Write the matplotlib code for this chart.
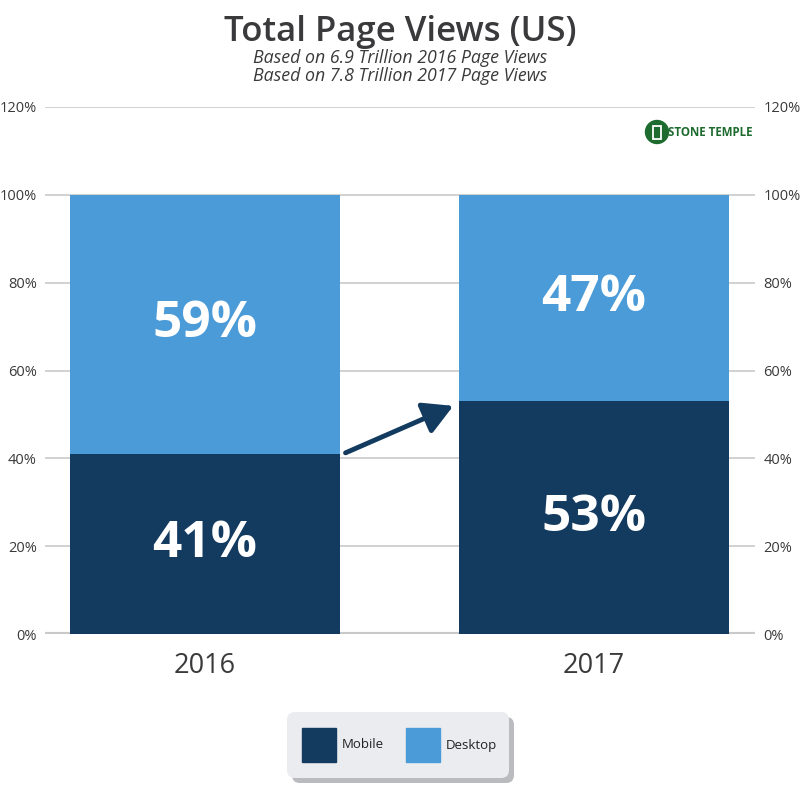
import matplotlib
matplotlib.use("Agg")
import matplotlib.pyplot as plt
from matplotlib.patches import FancyBboxPatch, Rectangle, Circle, FancyArrowPatch

years = ["2016", "2017"]
mobile = [41, 53]
desktop = [59, 47]
yticks = [0, 20, 40, 60, 80, 100, 120]
title = "Total Page Views (US)"
subtitles = ["Based on 6.9 Trillion 2016 Page Views", "Based on 7.8 Trillion 2017 Page Views"]
series_names = ["Mobile", "Desktop"]

DARK = "#133a5f"
LIGHT = "#4a9bd7"
TXT = "#3a3a3c"
FONT = ["Open Sans", "DejaVu Sans"]
plt.rcParams["font.family"] = FONT

W = H = 801
fig = plt.figure(figsize=(8.01, 8.01), dpi=100)
fig.patch.set_facecolor("white")

def fx(px):
    return px / W

def fy(py):
    return 1 - py / H

ax = fig.add_axes([fx(45), fy(634), fx(755) - fx(45), fy(107) - fy(634)])
ax.set_xlim(-0.411, 1.414)
ax.set_ylim(0, 120)
x = list(range(len(years)))
width = 0.694
ax.bar(x, mobile, width=width, color=DARK, zorder=3)
ax.bar(x, desktop, width=width, bottom=mobile, color=LIGHT, zorder=3)

for yt in yticks:
    ax.axhline(yt, color="#c9c9c9", lw=1.2 if yt else 3, zorder=1)
for s in ax.spines.values():
    s.set_visible(False)
ax.set_xticks([])
ax.set_yticks(yticks)
ax.set_yticklabels([f"{v}%" for v in yticks])
ax.tick_params(axis="y", length=0, pad=6, labelsize=10.5, labelcolor=TXT,
               labelright=True, right=False)
ax.set_facecolor("none")

for i in x:
    ax.text(i, mobile[i] / 2, f"{mobile[i]}%", color="white", fontsize=37,
            fontweight="bold", ha="center", va="center", zorder=4)
    ax.text(i, mobile[i] + desktop[i] / 2, f"{desktop[i]}%", color="white", fontsize=37,
            fontweight="bold", ha="center", va="center", zorder=4)
    ax.text(i, -7.2, years[i], color=TXT, fontsize=19.5, ha="center", va="center")

arrow = FancyArrowPatch((0.355, mobile[0]), (0.645, mobile[1] - 0.8),
                        arrowstyle="-|>,head_length=18,head_width=10",
                        color=DARK, lw=3.5, zorder=5, mutation_scale=1)
ax.add_patch(arrow)

fig.text(0.5, fy(32), title, ha="center", va="center", fontsize=25,
         fontweight="semibold", color=TXT)
fig.text(0.5, fy(58), subtitles[0], ha="center", va="center", fontsize=12.8,
         style="italic", color=TXT)
fig.text(0.5, fy(76), subtitles[1], ha="center", va="center", fontsize=12.8,
         style="italic", color=TXT)

# logo
GREEN = "#1e6b2f"
lax = fig.add_axes([0, 0, 1, 1], zorder=10)
lax.set_xlim(0, W)
lax.set_ylim(H, 0)
lax.axis("off")
lax.add_patch(Circle((657, 132), 11.5, color=GREEN))
lax.add_patch(Rectangle((653, 126), 8, 13, facecolor="none", edgecolor="white", lw=1.3))
lax.text(668, 132.5, "STONE TEMPLE", color=GREEN, fontsize=8.3, fontweight="bold",
         ha="left", va="center")

# legend box
lax.add_patch(FancyBboxPatch((292, 717), 222, 66, boxstyle="round,pad=0,rounding_size=8",
                             facecolor="#b9bbbf", edgecolor="none"))
lax.add_patch(FancyBboxPatch((287, 712), 222, 66, boxstyle="round,pad=0,rounding_size=8",
                             facecolor="#ebecf0", edgecolor="none"))
lax.add_patch(Rectangle((302, 728), 34, 34, color=DARK))
lax.text(342, 745, series_names[0], fontsize=9.5, color="#222222", va="center", ha="left")
lax.add_patch(Rectangle((406, 728), 34, 34, color=LIGHT))
lax.text(446, 745, series_names[1], fontsize=9.5, color="#222222", va="center", ha="left")

fig.savefig("out.png", dpi=100)
